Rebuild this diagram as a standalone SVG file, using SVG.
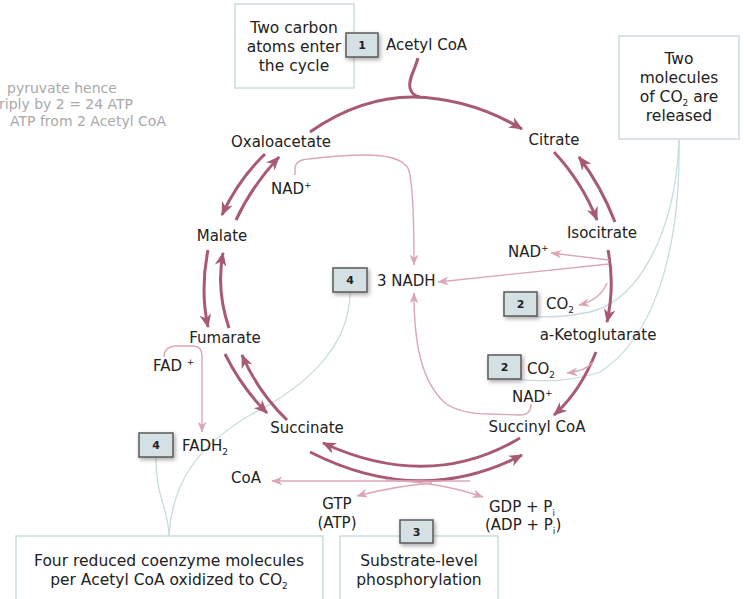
<svg xmlns="http://www.w3.org/2000/svg" width="744" height="599" viewBox="0 0 744 599">
<style>
text{font-family:"DejaVu Sans","Liberation Sans",sans-serif;fill:#222;font-size:15px}
.box{fill:#fff;stroke:#cddcdf;stroke-width:1.5}
.bt{font-size:15.5px;text-anchor:middle}
.gray{fill:#a9a9a9;font-size:14px}
.c{text-anchor:middle}
.dk{fill:none;stroke:#a85a71;stroke-width:3;marker-end:url(#ad)}
.dkn{fill:none;stroke:#a85a71;stroke-width:3}
.lt{fill:none;stroke:#dca6b6;stroke-width:1.4;marker-end:url(#al)}
.bl{fill:none;stroke:#c8dce0;stroke-width:1.3}
.badge{fill:#d5e0e4;stroke:#595959;stroke-width:1.5;filter:url(#sh)}
.bn{font-size:11px;font-weight:bold;text-anchor:middle;fill:#222}
</style>
<defs>
<marker id="ad" viewBox="0 0 12 10" refX="11" refY="5" markerWidth="14" markerHeight="12" orient="auto" markerUnits="userSpaceOnUse"><path d="M0,0 L12,5 L0,10 L3.5,5 Z" fill="#a85a71"/></marker>
<marker id="al" viewBox="0 0 10 8" refX="9.5" refY="4" markerWidth="11" markerHeight="9" orient="auto" markerUnits="userSpaceOnUse"><path d="M0,0 L10,4 L0,8 L3,4 Z" fill="#dca6b6"/></marker>
<filter id="sh" x="-30%" y="-30%" width="170%" height="170%"><feDropShadow dx="1.5" dy="2" stdDeviation="2" flood-color="#000" flood-opacity="0.35"/></filter>
</defs>
<rect width="744" height="599" fill="#fff"/>

<g id="note-left">
<text class="gray" x="7" y="93">pyruvate hence</text>
<text class="gray" x="-1" y="109">riply by 2 = 24 ATP</text>
<text class="gray" x="10" y="126">ATP from 2 Acetyl CoA</text>
</g>

<g id="connectors">
<path class="bl" d="M679,139 C 676,230 640,300 590,312 Q 550,320 520,315"/>
<path class="bl" d="M679,139 C 681,260 650,340 600,372 Q 560,386 505,378"/>
<path class="bl" d="M350,292 C 350,350 300,390 250,415 C 200,445 172,480 169,536"/>
<path class="bl" d="M156,457 C 156,500 168,505 169,536"/>
<path class="dkn" d="M418,58 C 414,72 408,80 410,88 Q 412,96 420,97"/>
<path class="dk" d="M310,132 Q 360,97 413,97 Q 470,98 522,129"/>
<path class="dk" d="M554,152 Q 582,182 597,220"/>
<path class="dk" d="M615,222 Q 601,186 579,157"/>
<path class="dk" d="M608,250 Q 615,285 607,322"/>
<path class="dk" d="M596,352 Q 580,392 554,415"/>
<path class="dk" d="M520,438 Q 430,492 323,443"/>
<path class="dk" d="M310,452 Q 420,508 522,455"/>
<path class="dk" d="M225,354 Q 242,388 267,413"/>
<path class="dk" d="M287,420 Q 258,392 242,355"/>
<path class="dk" d="M208,250 Q 200,290 208,327"/>
<path class="dk" d="M229,328 Q 216,290 223,253"/>
<path class="dk" d="M265,154 Q 238,180 222,215"/>
<path class="dk" d="M236,220 Q 252,186 279,157"/>
<path class="lt" d="M295,175 L295,169 Q 295,160 308,159 C 360,153 398,152 408,168 Q 414,182 414,265"/>
<path class="lt" d="M609,260 L551,253"/>
<path class="lt" d="M609,264 L438,282"/>
<path class="lt" d="M607,283 Q 600,300 579,305"/>
<path class="lt" d="M593,362 Q 586,371 567,373"/>
<path class="lt" d="M531,404 Q 531,415 520,415 L 490,414 Q 460,414 445,403 C 420,380 414,340 414,293"/>
<path class="lt" d="M164,357 Q 164,347 175,346 L 193,346 Q 202,346 202,356 L 202,432"/>
<path class="lt" d="M470,481 L272,481"/>
<path class="lt" d="M432,483 Q 395,486 357,496"/>
<path class="lt" d="M385,480 Q 440,482 483,497"/>
</g>

<g id="box-carbon">
<rect class="box" x="235" y="4" width="119" height="84"/>
<text class="bt" x="294" y="33">Two carbon</text>
<text class="bt" x="294" y="52">atoms enter</text>
<text class="bt" x="294" y="71">the cycle</text>
</g>
<g id="box-co2">
<rect class="box" x="619" y="36" width="120" height="103"/>
<text class="bt" x="679" y="64">Two</text>
<text class="bt" x="679" y="83">molecules</text>
<text class="bt" x="679" y="102">of CO<tspan font-size="9" dy="4">2</tspan><tspan dy="-4"> are</tspan></text>
<text class="bt" x="679" y="121">released</text>
</g>
<g id="box-coenzyme">
<rect class="box" x="16" y="536" width="307" height="70"/>
<text class="bt" x="169" y="566">Four reduced coenzyme molecules</text>
<text class="bt" x="169" y="585">per Acetyl CoA oxidized to CO<tspan font-size="9" dy="4">2</tspan></text>
</g>
<g id="box-substrate">
<rect class="box" x="340" y="536" width="158" height="70"/>
<text class="bt" x="419" y="566">Substrate-level</text>
<text class="bt" x="419" y="585">phosphorylation</text>
</g>

<g id="acetyl-coa"><text x="386" y="50">Acetyl CoA</text></g>
<g id="oxaloacetate"><text class="c" x="281" y="147">Oxaloacetate</text></g>
<g id="citrate"><text class="c" x="554" y="145">Citrate</text></g>
<g id="isocitrate"><text class="c" x="602" y="238">Isocitrate</text></g>
<g id="ketoglutarate"><text class="c" x="598" y="340">a-Ketoglutarate</text></g>
<g id="succinyl-coa"><text class="c" x="537" y="432">Succinyl CoA</text></g>
<g id="succinate"><text class="c" x="307" y="433">Succinate</text></g>
<g id="fumarate"><text class="c" x="225" y="343">Fumarate</text></g>
<g id="malate"><text class="c" x="222" y="241">Malate</text></g>
<g id="nadh"><text x="377" y="286" font-size="14.5">3 NADH</text></g>
<g id="nad-1"><text x="271" y="194">NAD<tspan font-size="9" dy="-6">+</tspan></text></g>
<g id="nad-2"><text x="508" y="257">NAD<tspan font-size="9" dy="-6">+</tspan></text></g>
<g id="nad-3"><text x="512" y="402">NAD<tspan font-size="9" dy="-6">+</tspan></text></g>
<g id="co2-1"><text x="546" y="309">CO<tspan font-size="9" dy="4">2</tspan></text></g>
<g id="co2-2"><text x="527" y="374">CO<tspan font-size="9" dy="4">2</tspan></text></g>
<g id="fad"><text x="153" y="371">FAD <tspan font-size="9" dy="-6">+</tspan></text></g>
<g id="fadh2"><text x="182" y="451">FADH<tspan font-size="9" dy="4">2</tspan></text></g>
<g id="coa"><text x="231" y="483">CoA</text></g>
<g id="gtp"><text class="c" x="337" y="509">GTP</text><text class="c" x="337" y="528">(ATP)</text></g>
<g id="gdp"><text x="489" y="512">GDP + P<tspan font-size="9" dy="4">i</tspan></text><text x="485" y="530">(ADP + P<tspan font-size="9" dy="4">i</tspan><tspan dy="-4">)</tspan></text></g>

<g id="badge-1"><rect class="badge" x="346" y="33" width="32" height="24"/><text class="bn" x="362" y="49">1</text></g>
<g id="badge-2a"><rect class="badge" x="504" y="292" width="33" height="24"/><text class="bn" x="520.5" y="308">2</text></g>
<g id="badge-2b"><rect class="badge" x="488" y="355" width="33" height="24"/><text class="bn" x="504.5" y="371">2</text></g>
<g id="badge-4a"><rect class="badge" x="333" y="268" width="34" height="24"/><text class="bn" x="350" y="284">4</text></g>
<g id="badge-4b"><rect class="badge" x="139" y="433" width="34" height="24"/><text class="bn" x="156" y="449">4</text></g>
<g id="badge-3"><rect class="badge" x="400" y="520" width="33" height="23"/><text class="bn" x="416.5" y="536">3</text></g>
</svg>
